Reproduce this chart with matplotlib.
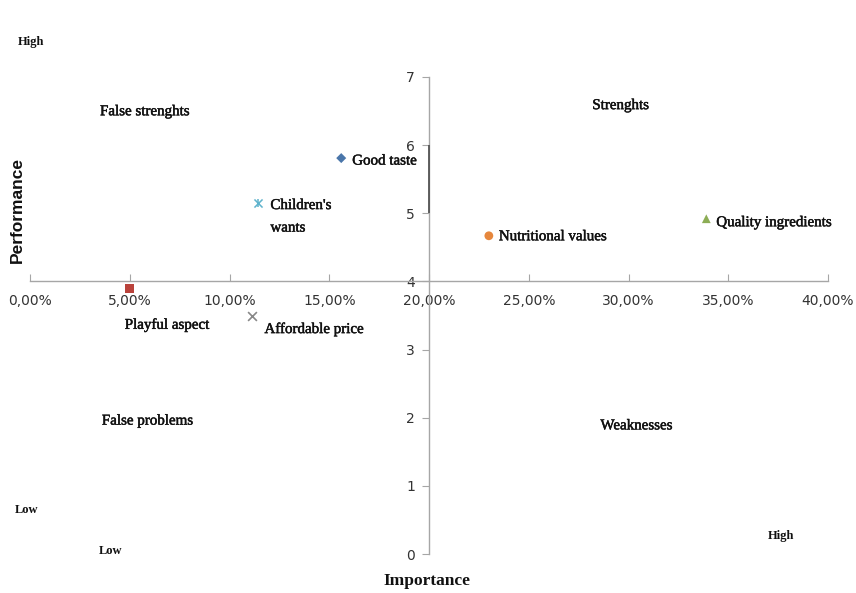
import matplotlib
matplotlib.use("Agg")
import matplotlib.pyplot as plt
import matplotlib.patheffects as pe
from matplotlib.ticker import FuncFormatter

# Attribute importance (%) and performance scores
attributes = ["Good taste", "Children's\nwants", "Nutritional values",
              "Quality ingredients", "Playful aspect", "Affordable price"]
importance = [15.6, 11.45, 23.0, 33.9, 5.0, 11.15]
performance = [5.81, 5.15, 4.67, 4.92, 3.89, 3.49]
colors = ["#4a76aa", "#5fb3cc", "#e6873d", "#8cad55", "#b9423b", "#888888"]
markers = ["D", "x", "o", "^", "s", "x"]
sizes = [26, 34, 40, 40, 42, 40]
# label offsets in pixels (dx, dy)
label_offsets = [(11, -3), (12, 4), (10, -1), (10, -4), (-5, -36), (12, -13)]
label_va = ["center", "top", "center", "center", "center", "center"]

x_ticks = [0, 5, 10, 15, 20, 25, 30, 35, 40]
y_ticks = [0, 1, 2, 3, 4, 5, 6, 7]
x_cross, y_cross = 20, 4

quadrants = [("False strenghts", 5.75, 6.49), ("Strenghts", 29.6, 6.58),
             ("False problems", 5.9, 1.95), ("Weaknesses", 30.4, 1.88)]

serif = "Liberation Serif"
heavy = [pe.withStroke(linewidth=0.35, foreground="#111111")]

fig = plt.figure(figsize=(8.56, 5.93), dpi=100)
ax = fig.add_axes([30 / 856, 39 / 593, 798 / 856, 477 / 593])
ax.set_xlim(0, 40)
ax.set_ylim(0, 7)

for name in ("top", "right"):
    ax.spines[name].set_visible(False)
ax.spines["left"].set_position(("data", x_cross))
ax.spines["bottom"].set_position(("data", y_cross))
for name in ("left", "bottom"):
    ax.spines[name].set_color("#a6a6a6")
    ax.spines[name].set_linewidth(1.0)

ax.set_xticks(x_ticks)
ax.set_yticks(y_ticks)
ax.xaxis.set_major_formatter(FuncFormatter(lambda v, p: f"{v:.2f}%".replace(".", ",")))
ax.tick_params(axis="x", direction="in", length=5, pad=9, colors="#a6a6a6",
               labelcolor="#333333", labelsize=10)
ax.tick_params(axis="y", direction="out", length=5, pad=5, colors="#a6a6a6",
               labelcolor="#333333", labelsize=10)
for lab in ax.get_xticklabels() + ax.get_yticklabels():
    lab.set_fontfamily("DejaVu Sans")

# darker stretch of the vertical axis
ax.vlines(x_cross, 5.0, 6.0, color="#555555", linewidth=1.3, zorder=3)

for i, name in enumerate(attributes):
    x, y = importance[i], performance[i]
    if i == 1:
        ax.scatter([x], [y], marker="x", s=sizes[i], color=colors[i], linewidths=1.1, zorder=4)
        ax.scatter([x], [y], marker="|", s=sizes[i] * 1.1, color=colors[i], linewidths=1.1, zorder=4)
    elif markers[i] == "x":
        ax.scatter([x], [y], marker="x", s=sizes[i], color=colors[i], linewidths=1.2, zorder=4)
    else:
        ax.scatter([x], [y], marker=markers[i], s=sizes[i], color=colors[i],
                   edgecolors="none", zorder=4)
    dx, dy = label_offsets[i]
    ax.annotate(name, (x, y), xytext=(dx, dy), textcoords="offset pixels",
                ha="left", va=label_va[i], fontsize=10.8, family=serif, color="#111111",
                linespacing=1.95, path_effects=heavy)

for text, qx, qy in quadrants:
    ax.text(qx, qy, text, ha="center", va="center", fontsize=10.8,
            family=serif, color="#111111", path_effects=heavy)

# axis titles and high/low markers
fig.text(427 / 856, 1 - 581 / 593, "Importance", ha="center", va="center",
         fontsize=12.5, family=serif, fontweight="bold", color="#111111")
fig.text(17 / 856, 1 - 210 / 593, "Performance", ha="center", va="center",
         rotation=90, fontsize=12.5, family="Liberation Sans", fontweight="bold",
         color="#111111")
for text, px, py in [("High", 31, 42), ("Low", 27, 510), ("Low", 111, 551), ("High", 781, 536)]:
    fig.text(px / 856, 1 - py / 593, text, ha="center", va="center",
             fontsize=9, family=serif, fontweight="bold", color="#111111")

fig.savefig("out.png", dpi=100)
